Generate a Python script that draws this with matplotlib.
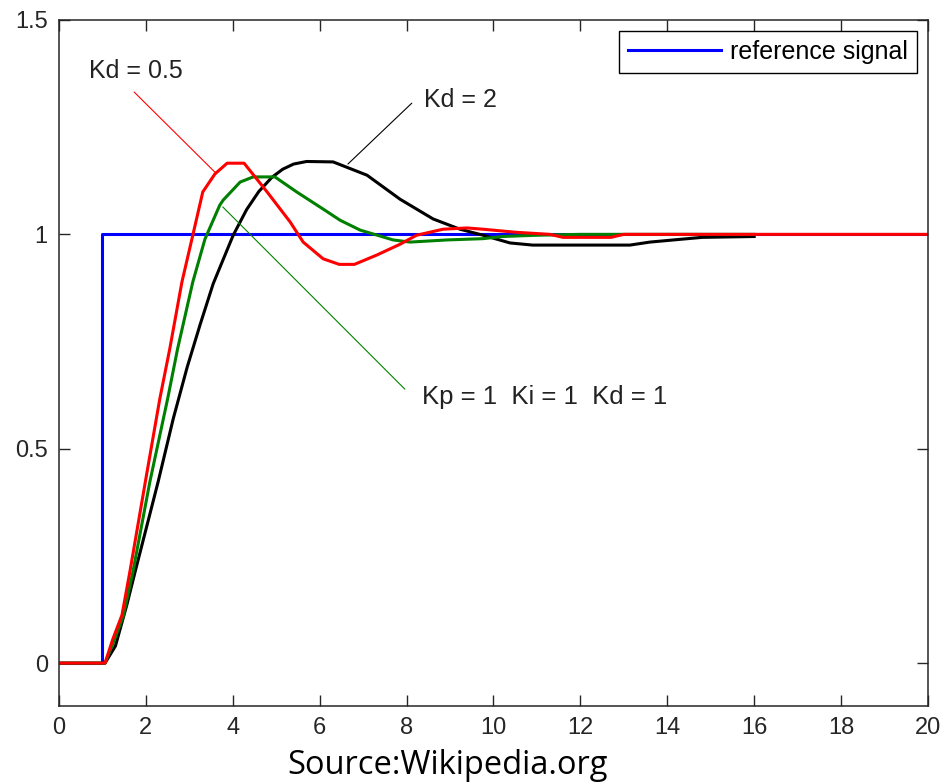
import matplotlib
matplotlib.use("Agg")
import matplotlib.pyplot as plt
from matplotlib.ticker import FuncFormatter

# reference step
t_ref = [0, 1.0, 1.0, 20]
y_ref = [0, 0, 1.0, 1.0]

# Kd = 0.5 (red)
t_kd05 = [0, 1.0, 1.06, 1.24, 1.45, 1.63, 2.0, 2.32, 2.55, 2.83, 3.08, 3.31,
          3.45, 3.59, 3.87, 4.26, 4.79, 5.32, 5.62, 6.08, 6.45, 6.8, 7.32,
          7.85, 8.23, 8.84, 9.39, 9.76, 10.5, 11.3, 11.6, 12.7, 13.0, 20]
y_kd05 = [0, 0, 0, 0.056, 0.112, 0.212, 0.43, 0.616, 0.733, 0.889, 0.998, 1.099,
          1.12, 1.141, 1.166, 1.166, 1.099, 1.029, 0.982, 0.943, 0.93, 0.93, 0.952,
          0.977, 0.998, 1.012, 1.015, 1.012, 1.005, 1.0, 0.993, 0.993, 1.0, 1.0]

# Kp = Ki = Kd = 1 (green)
t_kd1 = [0, 1.0, 1.06, 1.26, 1.48, 1.70, 2.09, 2.5, 2.73, 3.08, 3.36, 3.7,
         3.78, 4.17, 4.47, 4.97, 5.47, 6.08, 6.47, 6.93, 7.69, 8.08, 8.93,
         9.76, 10.2, 11.0, 12.0, 16.0]
y_kd1 = [0, 0, 0, 0.05, 0.11, 0.212, 0.422, 0.616, 0.733, 0.889, 0.989, 1.068,
         1.08, 1.122, 1.134, 1.134, 1.099, 1.059, 1.033, 1.01, 0.987, 0.982, 0.987,
         0.99, 0.995, 0.998, 1.0, 1.0]

# Kd = 2 (black)
t_kd2 = [0, 1.0, 1.06, 1.3, 1.56, 1.75, 2.28, 2.63, 2.95, 3.25, 3.55, 4.01,
         4.32, 4.6, 4.9, 5.15, 5.4, 5.7, 6.31, 7.09, 7.85, 8.61, 9.23,
         9.76, 10.38, 10.9, 13.14, 13.6, 14.36, 14.8, 16.0]
y_kd2 = [0, 0, 0, 0.04, 0.135, 0.212, 0.422, 0.57, 0.69, 0.79, 0.885, 0.998,
         1.058, 1.1, 1.133, 1.152, 1.164, 1.17, 1.169, 1.138, 1.082, 1.036, 1.012,
         0.998, 0.98, 0.975, 0.975, 0.982, 0.989, 0.993, 0.995]

plt.rcParams["font.family"] = ["Liberation Sans", "DejaVu Sans"]

fig = plt.figure(figsize=(9.51, 7.84), dpi=100)
ax = fig.add_axes([0.0620, 0.0995, 0.9138, 0.875])

lw = 2.2
ax.plot(t_ref, y_ref, color="#0000ff", lw=lw, label="reference signal")
ax.plot(t_kd2, y_kd2, color="black", lw=lw)
ax.plot(t_kd1, y_kd1, color="#008000", lw=lw)
ax.plot(t_kd05, y_kd05, color="#ff0000", lw=lw)

# pointer lines + labels
def pointer(p0, p1, color):
    ax.annotate("", xy=p1, xytext=p0,
                arrowprops=dict(arrowstyle="-", color=color, lw=0.8,
                                shrinkA=0, shrinkB=0))

pointer((1.73, 1.332), (3.59, 1.145), "#ff0000")
pointer((8.12, 1.306), (6.65, 1.164), "black")
pointer((7.96, 0.639), (3.77, 1.064), "#008000")
ax.text(0.69, 1.381, "Kd = 0.5", fontsize=18, va="center", ha="left", color="#222222")
ax.text(8.4, 1.313, "Kd = 2", fontsize=18, va="center", ha="left", color="#222222")
ax.text(8.35, 0.62, "Kp = 1  Ki = 1  Kd = 1", fontsize=18.5, va="center", ha="left",
        color="#222222")

ax.set_xlim(0, 20)
ax.set_ylim(-0.1, 1.5)
ax.set_xticks(range(0, 21, 2))
ax.set_yticks([0, 0.5, 1, 1.5])
ax.yaxis.set_major_formatter(FuncFormatter(lambda v, p: f"{v:g}"))
ax.tick_params(direction="in", length=8, width=1, top=True, right=True,
               labelsize=17, colors="#262626", pad=8)
for s in ax.spines.values():
    s.set_linewidth(1.1)
    s.set_color("#262626")

leg = ax.legend(loc="upper right", fontsize=18, handlelength=3.7,
                handletextpad=0.36, borderpad=0.36, borderaxespad=0.45,
                fancybox=False, framealpha=1)
leg.get_frame().set_edgecolor("black")
leg.get_frame().set_linewidth(1.0)

fig.text(448 / 951, 1 - 766 / 784, "Source:Wikipedia.org", fontsize=23.5,
         family=["Open Sans", "DejaVu Sans"], ha="center", va="center")

fig.savefig("out.png", dpi=100)
